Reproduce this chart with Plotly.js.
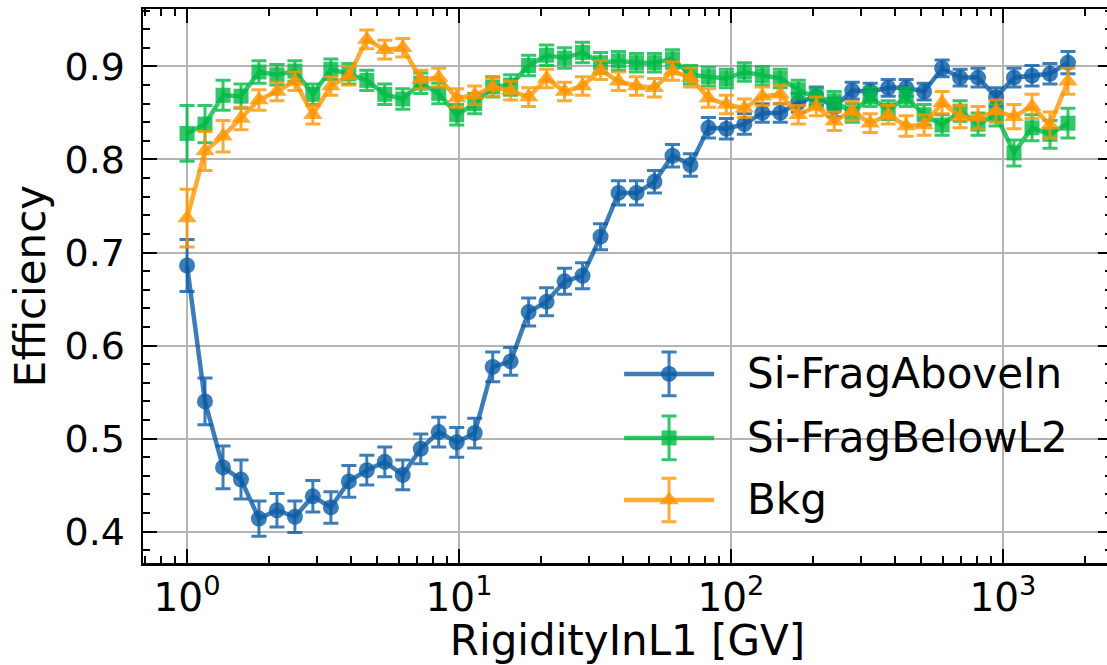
<!DOCTYPE html>
<html>
<head>
<meta charset="utf-8">
<script src="https://cdn.plot.ly/plotly-3.0.1.min.js"></script>
<style>
html, body { margin: 0; padding: 0; background: #ffffff; overflow: hidden; }
#chart { width: 1120px; height: 665px; }
</style>
</head>
<body>
<div id="chart"></div>
<script>
// Bin centres (RigidityInL1, GV)
const rigidity = [1.000, 1.164, 1.356, 1.579, 1.838, 2.140, 2.492, 2.901, 3.379, 3.934,
  4.581, 5.334, 6.211, 7.232, 8.422, 9.806, 11.42, 13.30, 15.48, 18.03,
  20.99, 24.44, 28.46, 33.14, 38.59, 44.94, 52.32, 60.93, 70.95, 82.61,
  96.16, 112.0, 130.4, 151.8, 176.8, 205.9, 239.7, 279.1, 325.0, 378.5,
  440.6, 513.1, 597.5, 695.7, 810.0, 943.0, 1098, 1279, 1489, 1734];

const seriesNames = ["Si-FragAboveIn", "Si-FragBelowL2", "Bkg"];

const fragAboveIn = [0.686, 0.540, 0.469, 0.456, 0.414, 0.423, 0.416, 0.438, 0.426, 0.454,
  0.466, 0.475, 0.461, 0.489, 0.507, 0.496, 0.506, 0.577, 0.583, 0.636,
  0.647, 0.669, 0.675, 0.717, 0.764, 0.764, 0.776, 0.804, 0.794, 0.834,
  0.833, 0.838, 0.850, 0.850, 0.861, 0.868, 0.856, 0.874, 0.873, 0.877,
  0.877, 0.873, 0.898, 0.888, 0.888, 0.867, 0.888, 0.890, 0.892, 0.904];
const fragAboveInErr = [0.028, 0.025, 0.023, 0.021, 0.019, 0.018, 0.017, 0.017, 0.017, 0.017,
  0.016, 0.016, 0.016, 0.016, 0.016, 0.016, 0.016, 0.016, 0.015, 0.015,
  0.015, 0.014, 0.014, 0.014, 0.013, 0.013, 0.012, 0.012, 0.012, 0.011,
  0.011, 0.011, 0.010, 0.010, 0.010, 0.010, 0.010, 0.009, 0.009, 0.009,
  0.009, 0.009, 0.009, 0.009, 0.010, 0.010, 0.010, 0.011, 0.011, 0.012];

const fragBelowL2 = [0.828, 0.838, 0.869, 0.868, 0.894, 0.891, 0.895, 0.870, 0.897, 0.892,
  0.885, 0.870, 0.865, 0.882, 0.871, 0.848, 0.860, 0.878, 0.880, 0.901,
  0.912, 0.909, 0.915, 0.904, 0.906, 0.904, 0.904, 0.908, 0.891, 0.889,
  0.887, 0.894, 0.890, 0.887, 0.875, 0.866, 0.863, 0.850, 0.867, 0.853,
  0.867, 0.848, 0.837, 0.852, 0.838, 0.848, 0.807, 0.834, 0.827, 0.839];
const fragBelowL2Err = [0.030, 0.020, 0.016, 0.013, 0.012, 0.011, 0.011, 0.011, 0.011, 0.011,
  0.011, 0.011, 0.011, 0.011, 0.011, 0.011, 0.011, 0.011, 0.011, 0.011,
  0.011, 0.011, 0.011, 0.011, 0.010, 0.010, 0.010, 0.010, 0.010, 0.010,
  0.010, 0.010, 0.010, 0.010, 0.010, 0.010, 0.010, 0.010, 0.010, 0.010,
  0.010, 0.011, 0.011, 0.011, 0.012, 0.012, 0.014, 0.014, 0.015, 0.016];

const bkg = [0.737, 0.809, 0.825, 0.844, 0.864, 0.873, 0.884, 0.848, 0.879, 0.890,
  0.929, 0.918, 0.920, 0.886, 0.888, 0.866, 0.869, 0.878, 0.874, 0.867,
  0.887, 0.873, 0.879, 0.896, 0.884, 0.879, 0.877, 0.895, 0.888, 0.866,
  0.859, 0.855, 0.868, 0.870, 0.848, 0.857, 0.841, 0.852, 0.839, 0.848,
  0.836, 0.837, 0.861, 0.846, 0.845, 0.852, 0.846, 0.857, 0.837, 0.884];
const bkgErr = [0.031, 0.021, 0.017, 0.012, 0.011, 0.010, 0.010, 0.010, 0.010, 0.010,
  0.010, 0.010, 0.010, 0.010, 0.010, 0.010, 0.010, 0.010, 0.010, 0.010,
  0.010, 0.010, 0.010, 0.010, 0.010, 0.010, 0.010, 0.010, 0.010, 0.010,
  0.010, 0.010, 0.010, 0.010, 0.010, 0.010, 0.010, 0.010, 0.010, 0.010,
  0.011, 0.011, 0.012, 0.012, 0.012, 0.012, 0.013, 0.013, 0.014, 0.014];

const xTickVals = [1, 10, 100, 1000];
const xTickText = ["10<sup>0</sup>", "10<sup>1</sup>", "10<sup>2</sup>", "10<sup>3</sup>"];
const yTickVals = [0.4, 0.5, 0.6, 0.7, 0.8, 0.9];
const yTickText = ["0.4", "0.5", "0.6", "0.7", "0.8", "0.9"];

// ---- styling ----
const FONT = "DejaVu Sans";
const colors = ["rgba(12,93,165,0.8)", "rgba(0,185,69,0.8)", "rgba(255,149,0,0.8)"];
const symbols = ["circle", "square", "triangle-up"];
const msizes = [16, 15, 17];
const values = [fragAboveIn, fragBelowL2, bkg];
const errors = [fragAboveInErr, fragBelowL2Err, bkgErr];

const traces = [];
for (let k = 0; k < 3; k++) {
  traces.push({
    type: "scatter", mode: "lines+markers", name: seriesNames[k],
    x: rigidity, y: values[k],
    error_y: { type: "data", array: errors[k], visible: true, color: colors[k], thickness: 3, width: 7.5 },
    line: { color: colors[k], width: 4.5 },
    marker: { color: colors[k], symbol: symbols[k], size: msizes[k], line: { width: 0 } },
    showlegend: false, hoverinfo: "x+y"
  });
}

// custom legend drawn on an overlay axis (0..1 across the plot area)
const legRows = [0.3413, 0.2258, 0.1138];
const legX0 = 0.4965, legX1 = 0.5894, legXm = 0.5429, legText = 0.6209;
const annotations = [];
for (let k = 0; k < 3; k++) {
  traces.push({
    type: "scatter", mode: "lines", x: [legX0, legX1], y: [legRows[k], legRows[k]],
    xaxis: "x2", yaxis: "y2", line: { color: colors[k], width: 4.5 },
    showlegend: false, hoverinfo: "skip"
  });
  traces.push({
    type: "scatter", mode: "markers", x: [legXm], y: [legRows[k]],
    xaxis: "x2", yaxis: "y2",
    error_y: { type: "constant", value: 0.0394, visible: true, color: colors[k], thickness: 3, width: 7.5 },
    marker: { color: colors[k], symbol: symbols[k], size: msizes[k], line: { width: 0 } },
    showlegend: false, hoverinfo: "skip"
  });
  annotations.push({
    xref: "paper", yref: "paper", x: legText, y: legRows[k], xanchor: "left", yanchor: "middle",
    text: seriesNames[k], showarrow: false, font: { family: FONT, size: 42, color: "#000000" }
  });
}

const minorX = [0.7, 0.8, 0.9, 2, 3, 4, 5, 6, 7, 8, 9, 20, 30, 40, 50, 60, 70, 80, 90,
  200, 300, 400, 500, 600, 700, 800, 900, 2000];

const layout = {
  width: 1120, height: 665,
  margin: { l: 143, r: 8, t: 9, b: 102, pad: 0 },
  paper_bgcolor: "#ffffff", plot_bgcolor: "#ffffff",
  showlegend: false,
  font: { family: FONT, color: "#000000" },
  xaxis: {
    type: "log", range: [-0.162, 3.401], autorange: false,
    tickmode: "array", tickvals: xTickVals, ticktext: xTickText,
    ticks: "inside", ticklen: 14, tickwidth: 2, tickcolor: "#000000",
    showline: true, linecolor: "#000000", linewidth: 2.5, mirror: "allticks",
    showgrid: true, gridcolor: "#b4b4b4", gridwidth: 2,
    zeroline: false,
    tickfont: { family: FONT, size: 39, color: "#000000" },
    ticklabelstandoff: -1,
    minor: { tickmode: "array", tickvals: minorX, ticks: "inside", ticklen: 7, tickwidth: 2, tickcolor: "#000000", showgrid: false },
    title: { text: "RigidityInL1 [GV]", font: { family: FONT, size: 42, color: "#000000" }, standoff: 12 },
    automargin: false
  },
  yaxis: {
    range: [0.3663, 0.9617], autorange: false,
    tickmode: "array", tickvals: yTickVals, ticktext: yTickText,
    ticks: "inside", ticklen: 14, tickwidth: 2, tickcolor: "#000000",
    showline: true, linecolor: "#000000", linewidth: 2.5, mirror: "allticks",
    showgrid: true, gridcolor: "#b4b4b4", gridwidth: 2,
    zeroline: false,
    tickfont: { family: FONT, size: 38, color: "#000000" },
    ticklabelstandoff: 8,
    minor: { dtick: 0.02, tick0: 0, ticks: "inside", ticklen: 7, tickwidth: 2, tickcolor: "#000000", showgrid: false },
    title: { text: "Efficiency", font: { family: FONT, size: 42, color: "#000000" }, standoff: 6 },
    automargin: false
  },
  xaxis2: { overlaying: "x", anchor: "y2", range: [0, 1], autorange: false, visible: false, showgrid: false, zeroline: false },
  yaxis2: { overlaying: "y", anchor: "x2", range: [0, 1], autorange: false, visible: false, showgrid: false, zeroline: false },
  annotations: annotations
};

Plotly.newPlot("chart", traces, layout, { displayModeBar: false, staticPlot: true });
</script>
</body>
</html>
